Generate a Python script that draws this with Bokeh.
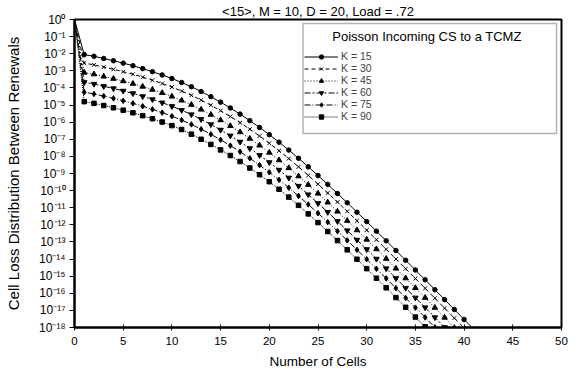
from bokeh.plotting import figure
from bokeh.models import (FixedTicker, CustomJSTickFormatter, Legend, LegendItem,
                          BoxAnnotation, Label)
from bokeh.embed import file_html
from bokeh.resources import INLINE

# ---- data (log10 of cell loss distribution) ----
n_cells = list(range(0, 42))
k15_log10 = [0, -2.05, -2.15, -2.28, -2.41, -2.55, -2.70, -2.87, -3.05, -3.24, -3.45,
             -3.68, -3.93, -4.21, -4.51, -4.83, -5.17, -5.53, -5.91, -6.31, -6.73,
             -7.17, -7.63, -8.11, -8.61, -9.12, -9.64, -10.17, -10.71, -11.26, -11.81,
             -12.37, -12.93, -13.50, -14.07, -14.64, -15.21, -15.79, -16.37, -16.95, -17.53,
             -18.11]
k30_log10 = [0, -2.55, -2.65, -2.78, -2.91, -3.05, -3.20, -3.37, -3.55, -3.74, -3.95,
             -4.18, -4.43, -4.71, -5.01, -5.33, -5.67, -6.03, -6.41, -6.81, -7.23,
             -7.67, -8.13, -8.61, -9.11, -9.62, -10.14, -10.67, -11.21, -11.76, -12.31,
             -12.87, -13.43, -14.00, -14.57, -15.14, -15.71, -16.29, -16.87, -17.45, -18.03]
k45_log10 = [0, -3.10, -3.20, -3.33, -3.46, -3.60, -3.75, -3.92, -4.10, -4.29, -4.50,
             -4.73, -4.98, -5.26, -5.56, -5.88, -6.22, -6.58, -6.96, -7.36, -7.78,
             -8.22, -8.68, -9.16, -9.66, -10.17, -10.69, -11.22, -11.76, -12.31, -12.86,
             -13.42, -13.98, -14.55, -15.12, -15.69, -16.26, -16.84, -17.42, -18.02]
k60_log10 = [0, -3.67, -3.77, -3.90, -4.03, -4.17, -4.32, -4.49, -4.67, -4.86, -5.07,
             -5.30, -5.55, -5.83, -6.13, -6.45, -6.79, -7.15, -7.53, -7.93, -8.35,
             -8.79, -9.25, -9.73, -10.23, -10.74, -11.26, -11.79, -12.33, -12.88, -13.43,
             -13.99, -14.55, -15.12, -15.69, -16.26, -16.83, -17.41, -17.99, -18.57]
k75_log10 = [0, -4.25, -4.35, -4.48, -4.61, -4.75, -4.90, -5.07, -5.25, -5.44, -5.65,
             -5.88, -6.13, -6.41, -6.71, -7.03, -7.37, -7.73, -8.11, -8.51, -8.93,
             -9.37, -9.83, -10.31, -10.81, -11.32, -11.84, -12.37, -12.91, -13.46, -14.01,
             -14.57, -15.13, -15.70, -16.27, -16.84, -17.41, -17.99, -18.57]
k90_log10 = [0, -4.80, -4.90, -5.03, -5.16, -5.30, -5.45, -5.62, -5.80, -5.99, -6.20,
             -6.43, -6.70, -7.00, -7.30, -7.62, -7.95, -8.30, -8.68, -9.07, -9.48,
             -9.92, -10.38, -10.86, -11.36, -11.87, -12.39, -12.92, -13.46, -14.01, -14.56,
             -15.12, -15.68, -16.25, -16.82, -17.39, -17.96, -18.54]

series_labels = ["K = 15", "K = 30", "K = 45", "K = 60", "K = 75", "K = 90"]
x_ticks = [0, 5, 10, 15, 20, 25, 30, 35, 40, 45, 50]
y_tick_exponents = list(range(0, -19, -1))
chart_title = "<15>, M = 10, D = 20, Load = .72"
legend_title = "Poisson  Incoming CS to a TCMZ"

FONT = "Liberation Sans"

p = figure(width=570, height=373, x_range=(0, 50), y_range=(1e-18, 1),
           y_axis_type="log", output_backend="svg", toolbar_location=None,
           min_border_left=74, min_border_right=9, min_border_top=19,
           min_border_bottom=46, title=chart_title)
p.title.align = "center"
p.title.text_font = FONT
p.title.text_font_size = "13px"
p.title.text_font_style = "normal"
p.title.text_color = "black"
p.title.standoff = 2
p.grid.visible = False
p.outline_line_color = "black"
p.outline_line_width = 2
p.background_fill_color = "white"
p.border_fill_color = "white"

p.xaxis.ticker = FixedTicker(ticks=x_ticks)
p.yaxis.ticker = FixedTicker(ticks=[10.0 ** e for e in y_tick_exponents])
p.yaxis.formatter = CustomJSTickFormatter(code="""
const sup = {"0":"\u2070","1":"\u00b9","2":"\u00b2","3":"\u00b3","4":"\u2074",
             "5":"\u2075","6":"\u2076","7":"\u2077","8":"\u2078","9":"\u2079","-":"\u207b"};
const e = Math.round(Math.log10(tick));
return "10" + String(e).split("").map(c => sup[c]).join("");
""")
for ax in (p.xaxis, p.yaxis):
    ax.axis_line_width = 2
    ax.axis_line_color = "black"
    ax.major_tick_line_color = "black"
    ax.minor_tick_line_color = None
    ax.major_label_text_font = FONT
    ax.major_label_text_color = "black"
    ax.axis_label_text_font = FONT
    ax.axis_label_text_font_style = "normal"
    ax.axis_label_text_color = "black"
p.xaxis.major_label_text_font_size = "11.5px"
p.yaxis.major_label_text_font_size = "12px"
p.xaxis.axis_label_text_font_size = "13.5px"
p.yaxis.axis_label_text_font_size = "15px"
p.xaxis.major_tick_in = 3
p.xaxis.major_tick_out = 3
p.yaxis.major_tick_in = 0
p.yaxis.major_tick_out = 5
p.xaxis.major_label_standoff = 6
p.yaxis.major_label_standoff = 4
p.xaxis.axis_label = "Number of Cells"
p.yaxis.axis_label = "Cell Loss Distribution Between Renewals"
p.xaxis.axis_label_standoff = 6
p.yaxis.axis_label_standoff = 14

styles = [
    ("circle", "solid", 4.5),
    ("x", "4 3", 5.5),
    ("triangle", "1 2", 5.5),
    ("inverted_triangle", "6 2 2 2", 5.5),
    ("diamond", "6 2 1 2", 5.5),
    ("square", "1 1", 4.5),
]
all_series = [k15_log10, k30_log10, k45_log10, k60_log10, k75_log10, k90_log10]

items = []
for label, logs, (marker, dash, size) in zip(series_labels, all_series, styles):
    xs = n_cells[:len(logs)]
    ys = [10.0 ** v for v in logs]
    lr = p.line(xs, ys, line_color="black", line_width=1, line_dash=dash)
    sr = p.scatter(xs[1:], ys[1:], marker=marker, size=size, fill_color="black",
                   line_color="black", line_width=1)
    items.append(LegendItem(label=label, renderers=[lr, sr]))

# legend frame
box = BoxAnnotation(left=23.46, right=49.49, top=10 ** -0.23, bottom=10 ** -6.66,
                    fill_color="white", fill_alpha=1.0, line_color="black",
                    line_width=1.5, level="overlay")
p.add_layout(box)

legend = Legend(items=items, location=(230, 205), padding=0, spacing=0,
                glyph_width=34, glyph_height=11, label_height=11,
                label_standoff=3, label_text_font=FONT, label_text_font_size="10.5px",
                border_line_color=None, background_fill_alpha=0, margin=0)
p.add_layout(legend, "center")

p.add_layout(Label(x=36.37, y=10 ** -0.99, text=legend_title,
                   text_align="center", text_baseline="middle", text_font=FONT,
                   text_font_size="13px", text_color="black", level="overlay"))

open("out.html", "w").write(file_html(p, INLINE))
